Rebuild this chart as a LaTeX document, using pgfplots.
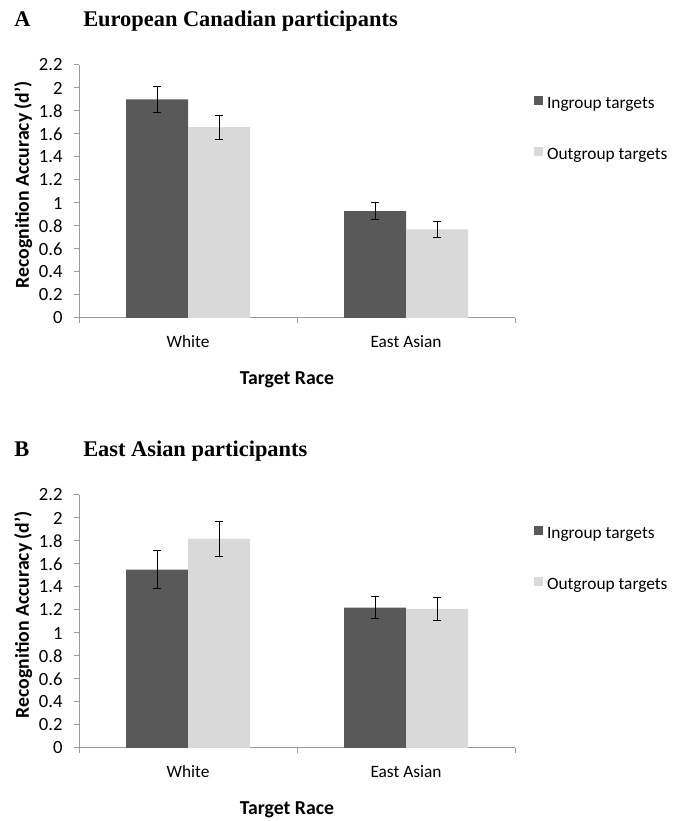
\documentclass[border=0pt]{standalone}
\usepackage{fontspec}
\setmainfont{Carlito}
\newfontfamily\titlefont{Liberation Serif}
\usepackage{pgfplots}
\pgfplotsset{compat=1.18}
\definecolor{dark}{RGB}{89,89,89}
\definecolor{light}{RGB}{217,217,217}
\definecolor{axcol}{RGB}{155,155,155}

\pgfplotsset{
  panel/.style={
    scale only axis, width=327pt, height=189.75pt,
    anchor=south west,
    xmin=-0.5, xmax=1.5, ymin=0, ymax=2.2,
    axis x line=bottom, axis y line=left,
    axis line style={draw=axcol, line width=0.75pt, -},
    tick align=outside,
    major tick length=3.75pt,
    tick style={draw=axcol, line width=0.75pt},
    ytick={0,0.2,0.4,0.6,0.8,1,1.2,1.4,1.6,1.8,2,2.2},
    yticklabels={0,0.2,0.4,0.6,0.8,1,1.2,1.4,1.6,1.8,2,2.2},
    xtick={-0.5,0.5,1.5},
    xticklabels={,,},
    extra x ticks={0,1},
    extra x tick labels={White,East Asian},
    extra x tick style={major tick length=0pt, tick style={draw=none}},
    x tick label style={yshift=-9.75pt, font=\fontsize{13}{15}\selectfont},
    y tick label style={xshift=-5.1pt, font=\fontsize{14}{16}\selectfont},
    label style={font=\fontsize{14.8}{17}\selectfont\bfseries},
    xlabel={Target Race},
    ylabel={Recognition Accuracy (d')},
    x label style={at={(axis description cs:0.477,-0.245)}, anchor=center},
    y label style={at={(axis description cs:-0.128,0.527)}, anchor=center},
    ybar, bar width=0.2844,
    legend style={at={(axis description cs:1.0436,0.879)}, anchor=north west,
      draw=none, fill=none, inner sep=0pt, outer sep=0pt,
      column sep=3pt, row sep=26.25pt,
      font=\fontsize{13}{15}\selectfont,
      nodes={inner sep=0pt, text height=9pt, text depth=3pt}},
    legend cell align=left,
    legend image code/.code={\fill[##1] (0pt,-0.5pt) rectangle (6.8pt,6.3pt);},
    error bars/error bar style={line width=0.75pt, black},
    error bars/error mark options={rotate=90, mark size=2.8pt, line width=0.75pt, black},
  }
}

\begin{document}
\begin{tikzpicture}
\useasboundingbox (0pt,0pt) rectangle (510pt,615.75pt);

\node[anchor=base west, inner sep=0pt] at (10.5pt,595.7pt) {\titlefont\fontsize{16.8}{19}\selectfont\bfseries A};
\node[anchor=base west, inner sep=0pt] at (62.25pt,595.7pt) {\titlefont\fontsize{16.8}{19}\selectfont\bfseries European Canadian participants};
\node[anchor=base west, inner sep=0pt] at (10.5pt,273.2pt) {\titlefont\fontsize{16.8}{19}\selectfont\bfseries B};
\node[anchor=base west, inner sep=0pt] at (62.25pt,273.2pt) {\titlefont\fontsize{16.8}{19}\selectfont\bfseries East Asian participants};

\begin{axis}[panel, at={(59.25pt,377.25pt)}]
\addplot[fill=dark, draw=none, bar shift=-0.1422,
  error bars/.cd, y dir=both, y explicit]
  coordinates {(0,1.90) +- (0,0.115) (1,0.93) +- (0,0.07)};
\addplot[fill=light, draw=none, bar shift=0.1422,
  error bars/.cd, y dir=both, y explicit]
  coordinates {(0,1.66) +- (0,0.105) (1,0.77) +- (0,0.072)};
\legend{Ingroup targets, Outgroup targets}
\end{axis}

\begin{axis}[panel, at={(59.25pt,54.75pt)}]
\addplot[fill=dark, draw=none, bar shift=-0.1422,
  error bars/.cd, y dir=both, y explicit]
  coordinates {(0,1.55) +- (0,0.165) (1,1.22) +- (0,0.097)};
\addplot[fill=light, draw=none, bar shift=0.1422,
  error bars/.cd, y dir=both, y explicit]
  coordinates {(0,1.82) +- (0,0.152) (1,1.21) +- (0,0.097)};
\legend{Ingroup targets, Outgroup targets}
\end{axis}
\end{tikzpicture}
\end{document}
